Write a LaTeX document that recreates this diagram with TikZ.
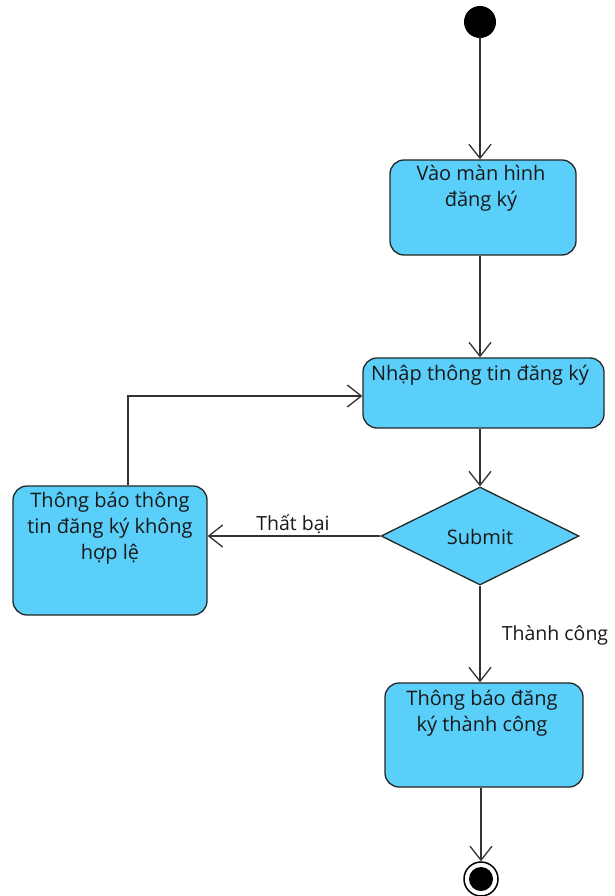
\documentclass[tikz,border=0pt]{standalone}
\usepackage{fontspec}
\setmainfont{Open Sans}
\usetikzlibrary{arrows.meta,shapes.geometric}
\definecolor{actblue}{RGB}{90,207,249}
\begin{document}
\begin{tikzpicture}[x=1pt,y=-1pt,
  every node/.style={font=\fontsize{20}{26}\selectfont,text=black!90},
  act/.style={draw=black!85,line width=1.3pt,fill=actblue,rounded corners=14pt,
    rectangle,inner sep=0pt},
  txt/.style={anchor=base,align=center,inner sep=0pt},
  flow/.style={line width=1.3pt,draw=black!80,-{Straight Barb[length=14pt,width=22pt,line width=1.3pt]}},
  lbl/.style={anchor=base,inner sep=0pt,font=\fontsize{19.5}{24}\selectfont}]
\useasboundingbox (0,0) rectangle (614,896);

% initial node
\node[circle,fill=black,minimum size=32pt,inner sep=0pt] (start) at (480,22) {};

% activities (text anchored at the baseline of its last line)
\node[act,minimum width=186pt,minimum height=95pt] (b1) at (483,207.5) {};
\node[txt] (t1) at (481,207) {Vào màn hình\\đăng ký};

\node[act,minimum width=241pt,minimum height=70pt] (b2) at (483.5,393) {};
\node[txt] (t2) at (480,380) {Nhập thông tin đăng ký};

\node[diamond,draw=black!85,line width=1.3pt,fill=actblue,minimum width=198pt,
  minimum height=98pt,inner sep=0pt,aspect=2] (d) at (480,536) {};
\node[txt] (td) at (480,544) {Submit};

\node[act,minimum width=194pt,minimum height=129pt] (b3) at (110,550.5) {};
\node[txt] (t3) at (110,559) {Thông báo thông\\tin đăng ký không\\hợp lệ};

\node[act,minimum width=198pt,minimum height=104pt] (b4) at (484,735) {};
\node[txt] (t4) at (482,731) {Thông báo đăng\\ký thành công};

% final node
\node[circle,draw=black,line width=1.5pt,fill=white,minimum size=34pt,inner sep=0pt] (end) at (481,879) {};
\node[circle,fill=black,minimum size=24pt,inner sep=0pt] (endin) at (end) {};

% flows
\draw[flow] (start) -- (start |- b1.north);
\draw[flow] (b1.south -| start) -- (b2.north -| start);
\draw[flow] (b2.south -| start) -- (d.north);
\draw[flow] (d.west) -- (b3.east |- d.west);
\node[lbl] (fail) at (293,530) {Thất bại};
\coordinate (bend) at (128,396);
\draw[flow] (b3.north -| bend) -- (bend) -- (b2.west |- bend);
\draw[flow] (d.south) -- (b4.north -| d.south);
\node[lbl] (ok) at (555,640) {Thành công};
\draw[flow] (b4.south -| end) -- (end.north);
\end{tikzpicture}
\end{document}
